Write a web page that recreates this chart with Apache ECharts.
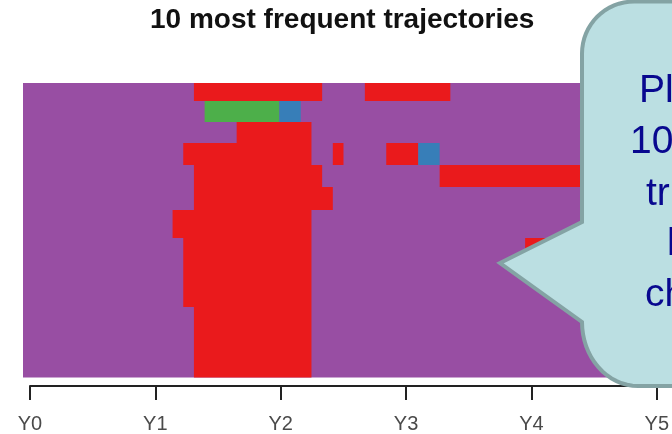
<!DOCTYPE html>
<html>
<head>
<meta charset="utf-8">
<script src="https://cdn.jsdelivr.net/npm/echarts@6/dist/echarts.min.js"></script>
<style>
  html, body { margin: 0; padding: 0; background: #ffffff; }
  #chart { width: 672px; height: 434px; }
</style>
</head>
<body>
<div id="chart"></div>
<script>
// State palette (TraMineR / Set1 style)
const stateColors = {
  A: '#984EA3',
  B: '#EA1A1C',
  C: '#4DAF4A',
  D: '#377EB8'
};
const baseState = 'A';

// Number of time points (columns) in each sequence
const nCols = 60;

// Frequencies of the 10 most frequent sequences, listed top to bottom
const seqFreq = [18, 21, 21, 22, 22, 23, 28, 28, 41, 70];

// Spells that differ from the base state: [state, startCol, endCol)
const seq1  = [['B', 16, 28], ['B', 32, 40]];
const seq2  = [['C', 17, 24], ['D', 24, 26]];
const seq3  = [['B', 20, 27]];
const seq4  = [['B', 15, 27], ['B', 29, 30], ['B', 34, 37], ['D', 37, 39]];
const seq5  = [['B', 16, 28], ['B', 39, 60]];
const seq6  = [['B', 16, 29]];
const seq7  = [['B', 14, 27]];
const seq8  = [['B', 15, 27], ['B', 47, 60]];
const seq9  = [['B', 15, 27]];
const seq10 = [['B', 16, 27]];
const sequences = [seq1, seq2, seq3, seq4, seq5, seq6, seq7, seq8, seq9, seq10];

// Time axis tick labels
const timeLabels = ['Y0', 'Y1', 'Y2', 'Y3', 'Y4', 'Y5'];

const titleText = '10 most frequent trajectories';
const calloutLines = ['Pl', '10', 'tr', 'l', 'ch'];

// Build rectangles: [x0, x1, y0, y1, state]
const totalFreq = seqFreq.reduce((a, b) => a + b, 0);
const cells = [];
let yCursor = 0;
sequences.forEach((spells, i) => {
  const y0 = yCursor, y1 = yCursor + seqFreq[i];
  cells.push([0, nCols, y0, y1, baseState]);
  spells.forEach(s => cells.push([s[1], s[2], y0, y1, s[0]]));
  yCursor = y1;
});

const chart = echarts.init(document.getElementById('chart'), null, { renderer: 'canvas' });

const font = '"Liberation Sans", Arial, Helvetica, sans-serif';

// Callout outline: rounded left corners and a pointer on the left side
function arcPoints(cx, cy, rx, ry, a0, a1, n) {
  const pts = [];
  for (let k = 0; k <= n; k++) {
    const a = a0 + (a1 - a0) * k / n;
    pts.push([cx + rx * Math.cos(a), cy + ry * Math.sin(a)]);
  }
  return pts;
}
const calloutPoints = [[700, 1.5]]
  .concat(arcPoints(634, 53.5, 52, 52, -Math.PI / 2, -Math.PI, 16))
  .concat([[582, 222], [500, 263], [582, 322]])
  .concat(arcPoints(638, 322, 56, 64, Math.PI, Math.PI / 2, 16))
  .concat([[700, 386]]);

const calloutX = [639, 630, 646, 667, 645];
const calloutMid = [91.5, 142.5, 194.5, 244.5, 295.5];

const option = {
  backgroundColor: '#ffffff',
  animation: false,
  title: {
    text: titleText,
    left: 150,
    top: 6,
    padding: 0,
    textStyle: { fontFamily: font, fontSize: 28, fontWeight: 'bold', color: '#111111' }
  },
  grid: [
    { left: 23, right: 8, top: 83, bottom: 57 },
    { left: 30, right: 0, top: 300, bottom: 45 }
  ],
  xAxis: [
    { gridIndex: 0, type: 'value', min: 0, max: nCols, show: false },
    {
      gridIndex: 1, type: 'value', min: 0, max: (672 - 30) / 125.8,
      splitLine: { show: false },
      axisLine: { show: true, lineStyle: { color: '#222222', width: 2 } },
      axisTick: {
        show: true, length: 14, inside: false,
        customValues: timeLabels.map((_, i) => i),
        lineStyle: { color: '#222222', width: 2 }
      },
      axisLabel: {
        show: true, margin: 28,
        customValues: timeLabels.map((_, i) => i),
        formatter: v => timeLabels[Math.round(v)] || '',
        fontFamily: font, fontSize: 20, color: '#4a4a4a'
      }
    }
  ],
  yAxis: [
    { gridIndex: 0, type: 'value', min: 0, max: totalFreq, inverse: true, show: false },
    { gridIndex: 1, type: 'value', min: 0, max: 1, show: false }
  ],
  series: [{
    type: 'custom',
    xAxisIndex: 0,
    yAxisIndex: 0,
    data: cells,
    renderItem: (params, api) => {
      const p0 = api.coord([api.value(0), api.value(2)]);
      const p1 = api.coord([api.value(1), api.value(3)]);
      const st = cells[params.dataIndex][4];
      return {
        type: 'rect',
        shape: { x: p0[0], y: p0[1], width: p1[0] - p0[0], height: p1[1] - p0[1] + 0.5 },
        style: { fill: stateColors[st], stroke: null }
      };
    }
  }],
  graphic: [
    {
      type: 'polygon',
      z: 100,
      shape: { points: calloutPoints },
      style: { fill: '#bbdfe2', stroke: '#84a3a4', lineWidth: 4, lineJoin: 'miter' }
    }
  ].concat(calloutLines.map((t, i) => ({
    type: 'text',
    z: 101,
    x: calloutX[i],
    y: calloutMid[i],
    style: {
      text: t,
      fill: '#08088f',
      font: '39px ' + font,
      textAlign: 'left',
      textVerticalAlign: 'middle'
    }
  })))
};

chart.setOption(option);
</script>
</body>
</html>
